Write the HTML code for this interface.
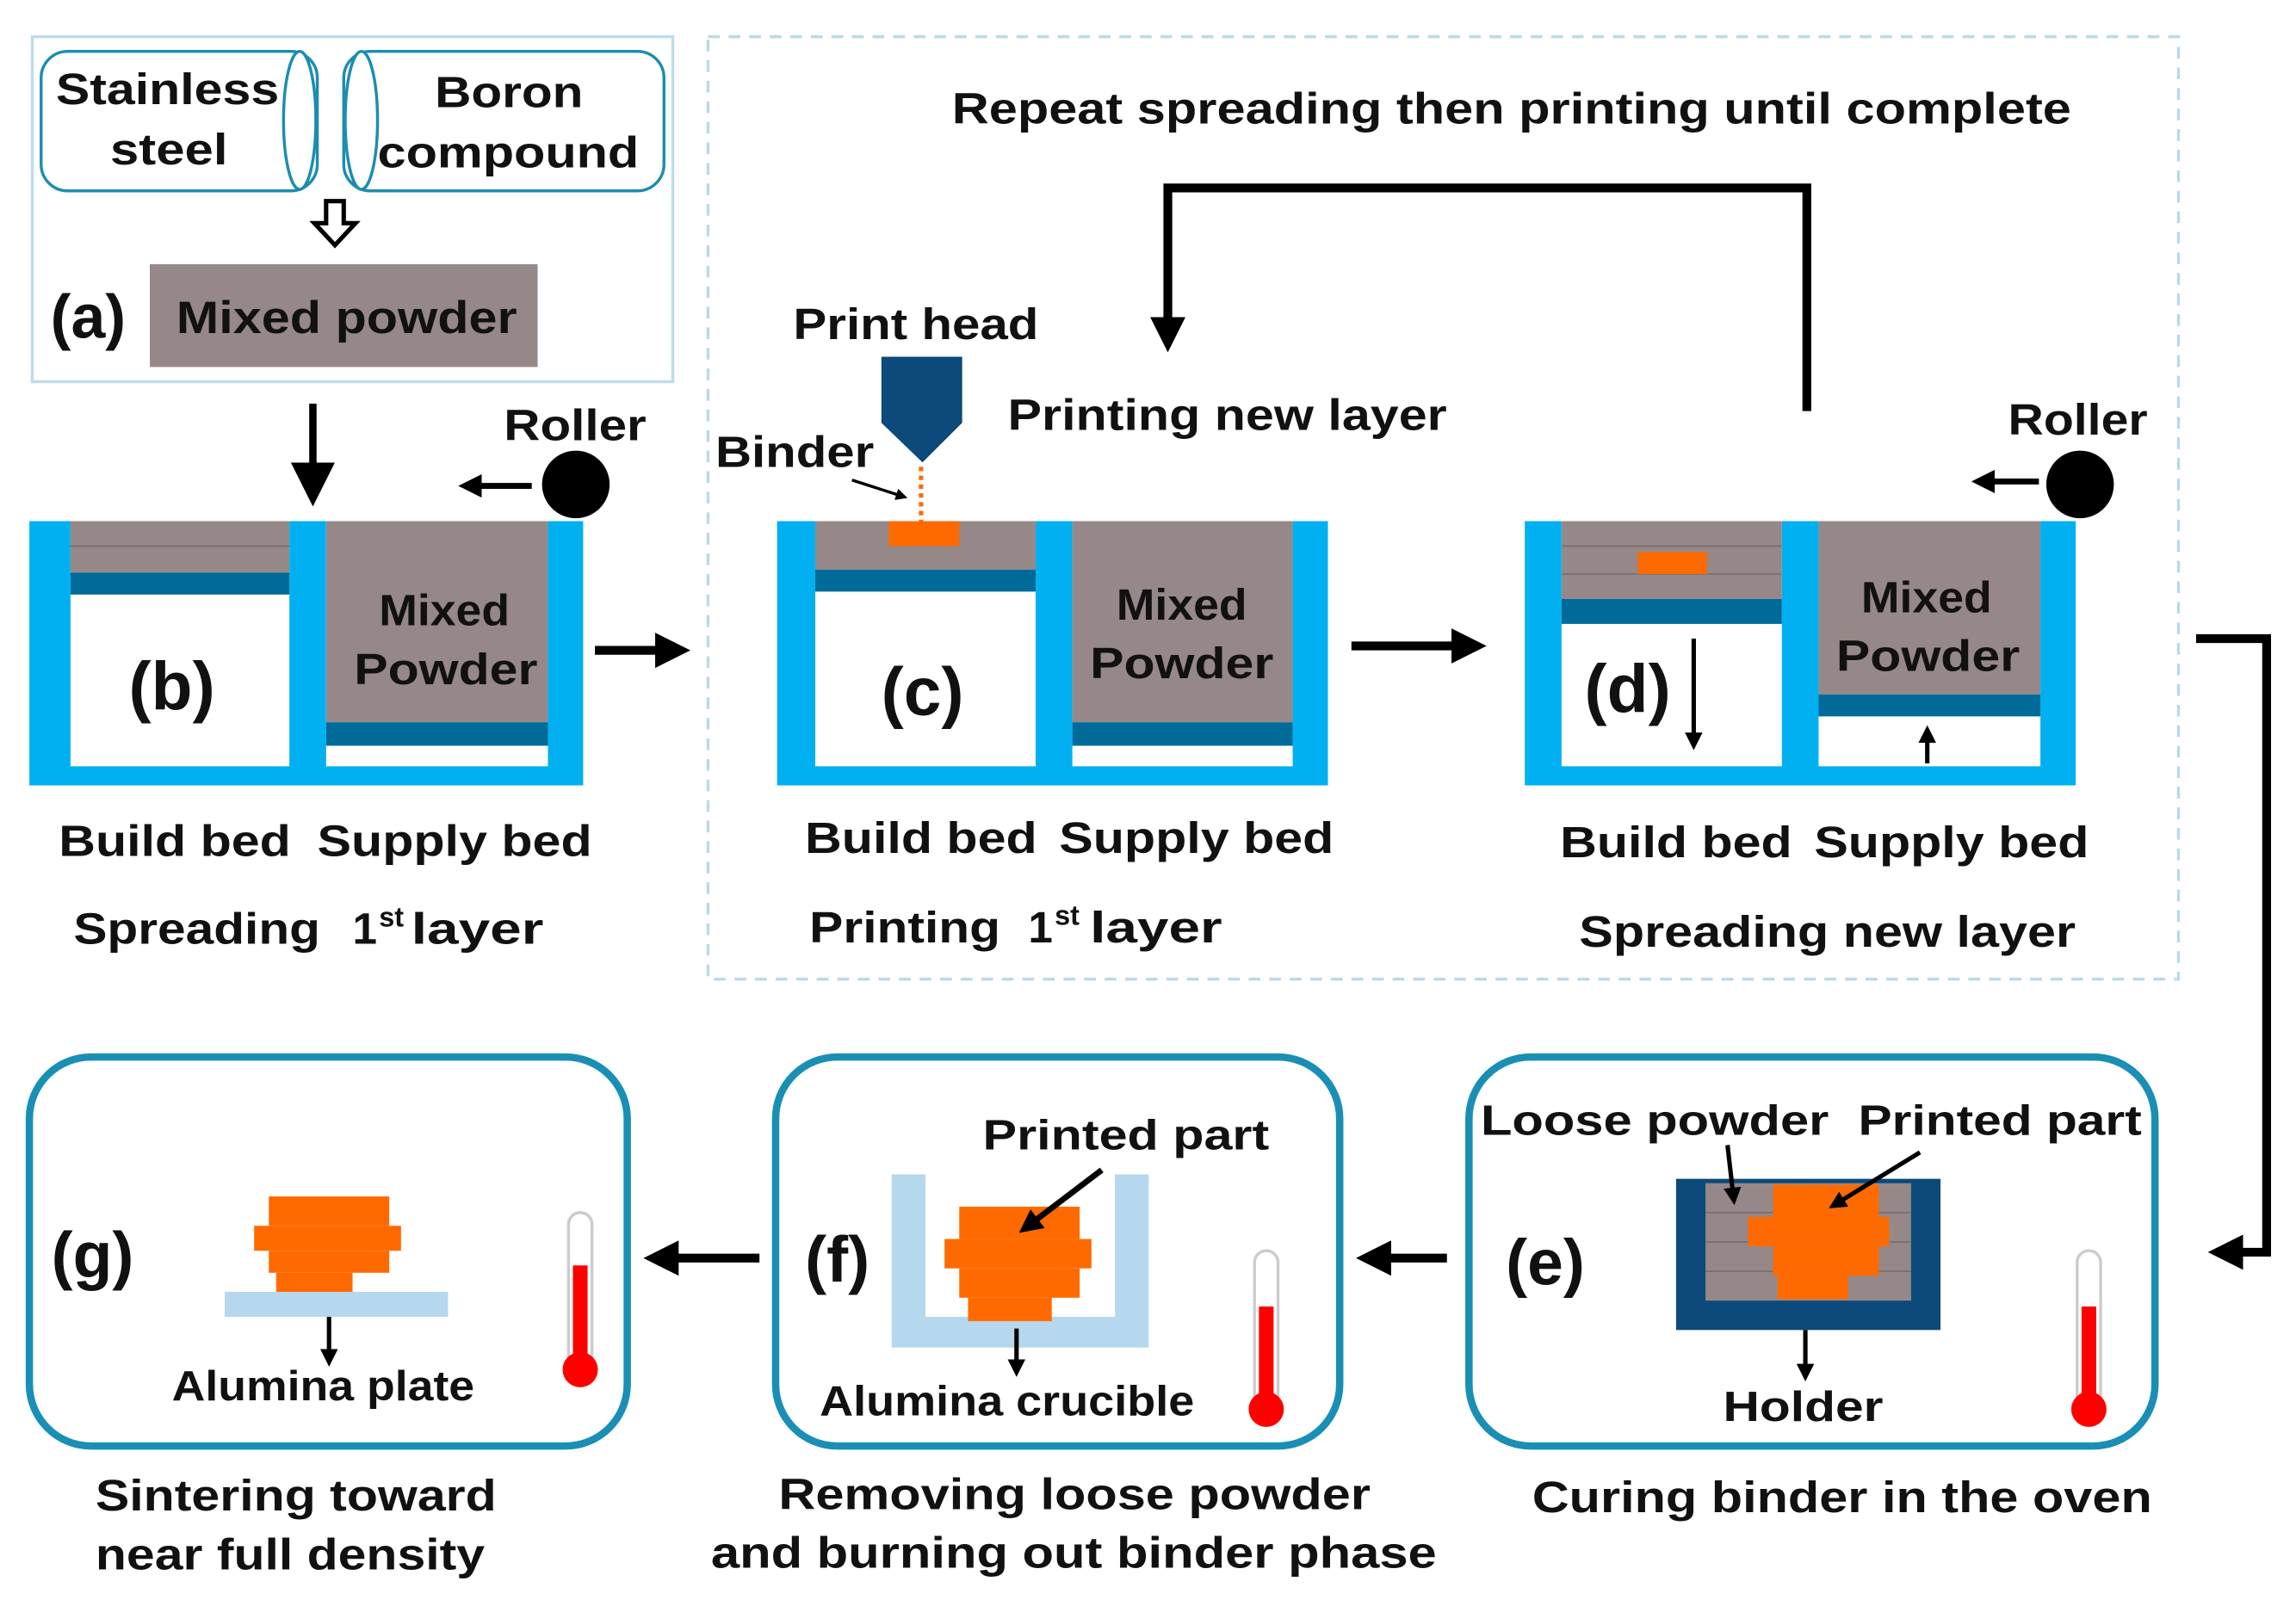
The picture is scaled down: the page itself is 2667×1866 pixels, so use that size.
<!DOCTYPE html>
<html><head><meta charset="utf-8"><style>
html,body{margin:0;padding:0;background:#fff}
svg{display:block}
text{font-family:"Liberation Sans",sans-serif;font-weight:bold;fill:#111}
</style></head><body>
<svg width="2667" height="1866" viewBox="0 0 1563 1094" preserveAspectRatio="none" xmlns="http://www.w3.org/2000/svg">
<defs>
<marker id="ah" markerWidth="6" markerHeight="6" refX="3" refY="3" orient="auto" markerUnits="strokeWidth"><path d="M0,0 L6,3 L0,6 z" fill="#000"/></marker>
<marker id="ahs" markerWidth="4" markerHeight="4" refX="2" refY="2" orient="auto" markerUnits="strokeWidth"><path d="M0,0 L4,2 L0,4 z" fill="#000"/></marker>
</defs>
<!-- (a) -->
<rect x="22" y="25" width="436" height="235" fill="none" stroke="#bcdde8" stroke-width="2"/>
<rect x="28" y="35" width="188" height="95" rx="18" fill="#fff" stroke="#1b8db0" stroke-width="2"/>
<ellipse cx="204" cy="82" rx="11" ry="47" fill="#fff" stroke="#1b8db0" stroke-width="2"/>
<rect x="234" y="35" width="218" height="95" rx="18" fill="#fff" stroke="#1b8db0" stroke-width="2"/>
<ellipse cx="246" cy="82" rx="11" ry="47" fill="#fff" stroke="#1b8db0" stroke-width="2"/>
<text x="38" y="71" font-size="30" textLength="152" lengthAdjust="spacingAndGlyphs">Stainless</text>
<text x="75" y="112" font-size="30" textLength="80" lengthAdjust="spacingAndGlyphs">steel</text>
<text x="296" y="73" font-size="30" textLength="101" lengthAdjust="spacingAndGlyphs">Boron</text>
<text x="257" y="114" font-size="30" textLength="178" lengthAdjust="spacingAndGlyphs">compound</text>
<path d="M222,137 h12 v15 h8 l-14,15 l-14,-15 h8 z" fill="#fff" stroke="#000" stroke-width="3"/>
<rect x="102" y="180" width="264" height="70" fill="#968888"/>
<text x="120" y="227" font-size="31" textLength="232" lengthAdjust="spacingAndGlyphs">Mixed powder</text>
<text x="60" y="230" font-size="42" text-anchor="middle" font-weight="normal">(a)</text>
<line x1="213" y1="275" x2="213" y2="330" stroke="#000" stroke-width="5" marker-end="url(#ah)"/>
<!-- (b) -->
<text x="343" y="300" font-size="30" textLength="97" lengthAdjust="spacingAndGlyphs">Roller</text>
<circle cx="392" cy="330" r="23" fill="#000"/>
<line x1="362" y1="331" x2="320" y2="331" stroke="#000" stroke-width="4" marker-end="url(#ahs)"/>
<rect x="20" y="355" width="377" height="180" fill="#00b0f0"/>
<rect x="48" y="355" width="149" height="167" fill="#fff"/>
<rect x="48" y="355" width="149" height="35" fill="#968888"/>
<line x1="48" y1="372" x2="197" y2="372" stroke="#7a6e6e" stroke-width="1"/>
<rect x="48" y="390" width="149" height="15" fill="#006b99"/>
<rect x="222" y="355" width="151" height="167" fill="#fff"/>
<rect x="222" y="355" width="151" height="137" fill="#968888"/>
<rect x="222" y="492" width="151" height="16" fill="#006b99"/>
<text x="258" y="426" font-size="30" textLength="89" lengthAdjust="spacingAndGlyphs">Mixed</text>
<text x="241" y="466" font-size="30" textLength="125" lengthAdjust="spacingAndGlyphs">Powder</text>
<text x="117" y="483" font-size="46" text-anchor="middle" font-weight="normal">(b)</text>
<line x1="405" y1="443" x2="458" y2="443" stroke="#000" stroke-width="6" marker-end="url(#ahs)"/>
<text x="40" y="583" font-size="30" textLength="158" lengthAdjust="spacingAndGlyphs">Build bed</text>
<text x="216" y="583" font-size="30" textLength="187" lengthAdjust="spacingAndGlyphs">Supply bed</text>
<text x="50" y="643" font-size="30" textLength="168" lengthAdjust="spacingAndGlyphs">Spreading</text>
<text x="240" y="643" font-size="30">1</text><text x="258" y="631" font-size="19">st</text>
<text x="280" y="643" font-size="30" textLength="90" lengthAdjust="spacingAndGlyphs">layer</text>
<!-- dashed box -->
<rect x="482" y="25" width="1001" height="642" fill="none" stroke="#bcd9e6" stroke-width="2" stroke-dasharray="8,6"/>
<text x="648" y="84" font-size="30" textLength="762" lengthAdjust="spacingAndGlyphs">Repeat spreading then printing until complete</text>
<polyline points="1230,280 1230,128 795,128 795,228" fill="none" stroke="#000" stroke-width="6" marker-end="url(#ahs)"/>
<!-- (c) -->
<text x="540" y="231" font-size="30" textLength="167" lengthAdjust="spacingAndGlyphs">Print head</text>
<path d="M600,243 h55 v45 l-27,27 l-28,-27 z" fill="#0b4a7a"/>
<text x="487" y="318" font-size="30" textLength="108" lengthAdjust="spacingAndGlyphs">Binder</text>
<line x1="580" y1="327" x2="614" y2="338" stroke="#000" stroke-width="2" marker-end="url(#ahs)"/>
<line x1="627" y1="318" x2="627" y2="355" stroke="#ff6a00" stroke-width="3" stroke-dasharray="3,3"/>
<text x="686" y="293" font-size="30" textLength="299" lengthAdjust="spacingAndGlyphs">Printing new layer</text>
<rect x="529" y="355" width="375" height="180" fill="#00b0f0"/>
<rect x="555" y="355" width="150" height="167" fill="#fff"/>
<rect x="555" y="355" width="150" height="33" fill="#968888"/>
<rect x="605" y="355" width="48" height="17" fill="#ff6a00"/>
<rect x="555" y="388" width="150" height="15" fill="#006b99"/>
<rect x="730" y="355" width="150" height="167" fill="#fff"/>
<rect x="730" y="355" width="150" height="137" fill="#968888"/>
<rect x="730" y="492" width="150" height="16" fill="#006b99"/>
<text x="760" y="422" font-size="30" textLength="89" lengthAdjust="spacingAndGlyphs">Mixed</text>
<text x="742" y="462" font-size="30" textLength="125" lengthAdjust="spacingAndGlyphs">Powder</text>
<text x="628" y="487" font-size="46" text-anchor="middle" font-weight="normal">(c)</text>
<line x1="920" y1="440" x2="1000" y2="440" stroke="#000" stroke-width="6" marker-end="url(#ahs)"/>
<text x="548" y="581" font-size="30" textLength="158" lengthAdjust="spacingAndGlyphs">Build bed</text>
<text x="721" y="581" font-size="30" textLength="187" lengthAdjust="spacingAndGlyphs">Supply bed</text>
<text x="551" y="642" font-size="30" textLength="130" lengthAdjust="spacingAndGlyphs">Printing</text>
<text x="700" y="642" font-size="30">1</text><text x="718" y="630" font-size="19">st</text>
<text x="742" y="642" font-size="30" textLength="90" lengthAdjust="spacingAndGlyphs">layer</text>
<!-- (d) -->
<text x="1367" y="296" font-size="30" textLength="95" lengthAdjust="spacingAndGlyphs">Roller</text>
<circle cx="1416" cy="330" r="23" fill="#000"/>
<line x1="1388" y1="328" x2="1350" y2="328" stroke="#000" stroke-width="4" marker-end="url(#ahs)"/>
<rect x="1038" y="355" width="375" height="180" fill="#00b0f0"/>
<rect x="1063" y="355" width="150" height="167" fill="#fff"/>
<rect x="1063" y="355" width="150" height="53" fill="#968888"/>
<line x1="1063" y1="372" x2="1213" y2="372" stroke="#7a6e6e"/>
<line x1="1063" y1="391" x2="1213" y2="391" stroke="#7a6e6e"/>
<rect x="1115" y="376" width="47" height="15" fill="#ff6a00"/>
<rect x="1063" y="408" width="150" height="17" fill="#006b99"/>
<rect x="1238" y="355" width="151" height="167" fill="#fff"/>
<rect x="1238" y="355" width="151" height="118" fill="#968888"/>
<rect x="1238" y="473" width="151" height="15" fill="#006b99"/>
<text x="1267" y="417" font-size="30" textLength="89" lengthAdjust="spacingAndGlyphs">Mixed</text>
<text x="1250" y="457" font-size="30" textLength="125" lengthAdjust="spacingAndGlyphs">Powder</text>
<text x="1108" y="485" font-size="46" text-anchor="middle" font-weight="normal">(d)</text>
<line x1="1153" y1="435" x2="1153" y2="505" stroke="#000" stroke-width="3" marker-end="url(#ahs)"/>
<line x1="1312" y1="520" x2="1312" y2="500" stroke="#000" stroke-width="3" marker-end="url(#ahs)"/>
<text x="1062" y="584" font-size="30" textLength="158" lengthAdjust="spacingAndGlyphs">Build bed</text>
<text x="1235" y="584" font-size="30" textLength="187" lengthAdjust="spacingAndGlyphs">Supply bed</text>
<text x="1075" y="645" font-size="30" textLength="338" lengthAdjust="spacingAndGlyphs">Spreading new layer</text>
<!-- right connector -->
<polyline points="1495,435 1543,435 1543,853 1515,853" fill="none" stroke="#000" stroke-width="6" marker-end="url(#ahs)"/>
<!-- bottom boxes -->
<rect x="20" y="720" width="407" height="265" rx="42" fill="#fff" stroke="#1a8fb5" stroke-width="5"/>
<rect x="528" y="720" width="384" height="265" rx="42" fill="#fff" stroke="#1a8fb5" stroke-width="5"/>
<rect x="1000" y="720" width="467" height="265" rx="42" fill="#fff" stroke="#1a8fb5" stroke-width="5"/>
<line x1="985" y1="857" x2="935" y2="857" stroke="#000" stroke-width="6" marker-end="url(#ahs)"/>
<line x1="517" y1="857" x2="450" y2="857" stroke="#000" stroke-width="6" marker-end="url(#ahs)"/>
<!-- (e) -->
<text x="1008" y="773" font-size="29" textLength="237" lengthAdjust="spacingAndGlyphs">Loose powder</text>
<text x="1265" y="773" font-size="29" textLength="193" lengthAdjust="spacingAndGlyphs">Printed part</text>
<rect x="1141" y="803" width="180" height="103" fill="#0b4a7a"/>
<rect x="1161" y="806" width="140" height="80" fill="#968888"/>
<g stroke="#7a6e6e"><line x1="1161" y1="826" x2="1301" y2="826"/><line x1="1161" y1="846" x2="1301" y2="846"/><line x1="1161" y1="866" x2="1301" y2="866"/></g>
<rect x="1207" y="807" width="72" height="22" fill="#ff6a00"/>
<rect x="1190" y="829" width="96" height="20" fill="#ff6a00"/>
<rect x="1207" y="849" width="72" height="20" fill="#ff6a00"/>
<rect x="1210" y="869" width="48" height="16" fill="#ff6a00"/>
<line x1="1176" y1="780" x2="1180" y2="815" stroke="#000" stroke-width="3" marker-end="url(#ahs)"/>
<line x1="1307" y1="785" x2="1250" y2="820" stroke="#000" stroke-width="3" marker-end="url(#ahs)"/>
<line x1="1229" y1="906" x2="1229" y2="935" stroke="#000" stroke-width="3" marker-end="url(#ahs)"/>
<text x="1173" y="968" font-size="29" textLength="109" lengthAdjust="spacingAndGlyphs">Holder</text>
<text x="1052" y="875" font-size="44" text-anchor="middle" font-weight="normal">(e)</text>
<rect x="1414" y="852" width="16" height="110" rx="8" fill="#fff" stroke="#ccc" stroke-width="2"/>
<rect x="1417" y="890" width="10" height="65" fill="#f00"/>
<circle cx="1422" cy="960" r="12" fill="#f00"/>
<text x="1043" y="1030" font-size="30" textLength="422" lengthAdjust="spacingAndGlyphs">Curing binder in the oven</text>
<!-- (f) -->
<text x="669" y="783" font-size="29" textLength="195" lengthAdjust="spacingAndGlyphs">Printed part</text>
<path d="M607,800 h23 v97 h129 v-97 h23 v118 h-175 z" fill="#b5d8ef"/>
<rect x="653" y="822" width="82" height="22" fill="#ff6a00"/>
<rect x="643" y="844" width="100" height="20" fill="#ff6a00"/>
<rect x="653" y="864" width="82" height="20" fill="#ff6a00"/>
<rect x="659" y="884" width="57" height="16" fill="#ff6a00"/>
<line x1="750" y1="797" x2="700" y2="835" stroke="#000" stroke-width="4" marker-end="url(#ahs)"/>
<line x1="692" y1="905" x2="692" y2="932" stroke="#000" stroke-width="3" marker-end="url(#ahs)"/>
<text x="558" y="964" font-size="29" textLength="255" lengthAdjust="spacingAndGlyphs">Alumina crucible</text>
<text x="570" y="873" font-size="44" text-anchor="middle" font-weight="normal">(f)</text>
<rect x="854" y="852" width="16" height="110" rx="8" fill="#fff" stroke="#ccc" stroke-width="2"/>
<rect x="857" y="890" width="10" height="65" fill="#f00"/>
<circle cx="862" cy="960" r="12" fill="#f00"/>
<text x="530" y="1028" font-size="30" textLength="403" lengthAdjust="spacingAndGlyphs">Removing loose powder</text>
<text x="484" y="1068" font-size="30" textLength="494" lengthAdjust="spacingAndGlyphs">and burning out binder phase</text>
<!-- (g) -->
<rect x="153" y="880" width="152" height="17" fill="#b5d8ef"/>
<rect x="183" y="815" width="82" height="20" fill="#ff6a00"/>
<rect x="173" y="835" width="100" height="17" fill="#ff6a00"/>
<rect x="183" y="852" width="82" height="15" fill="#ff6a00"/>
<rect x="188" y="867" width="52" height="13" fill="#ff6a00"/>
<line x1="224" y1="897" x2="224" y2="925" stroke="#000" stroke-width="3" marker-end="url(#ahs)"/>
<text x="117" y="954" font-size="29" textLength="206" lengthAdjust="spacingAndGlyphs">Alumina plate</text>
<text x="63" y="870" font-size="44" text-anchor="middle" font-weight="normal">(g)</text>
<rect x="387" y="826" width="16" height="110" rx="8" fill="#fff" stroke="#ccc" stroke-width="2"/>
<rect x="390" y="862" width="10" height="65" fill="#f00"/>
<circle cx="395" cy="933" r="12" fill="#f00"/>
<text x="65" y="1029" font-size="30" textLength="273" lengthAdjust="spacingAndGlyphs">Sintering toward</text>
<text x="65" y="1069" font-size="30" textLength="265" lengthAdjust="spacingAndGlyphs">near full density</text>
</svg>
</body></html>
